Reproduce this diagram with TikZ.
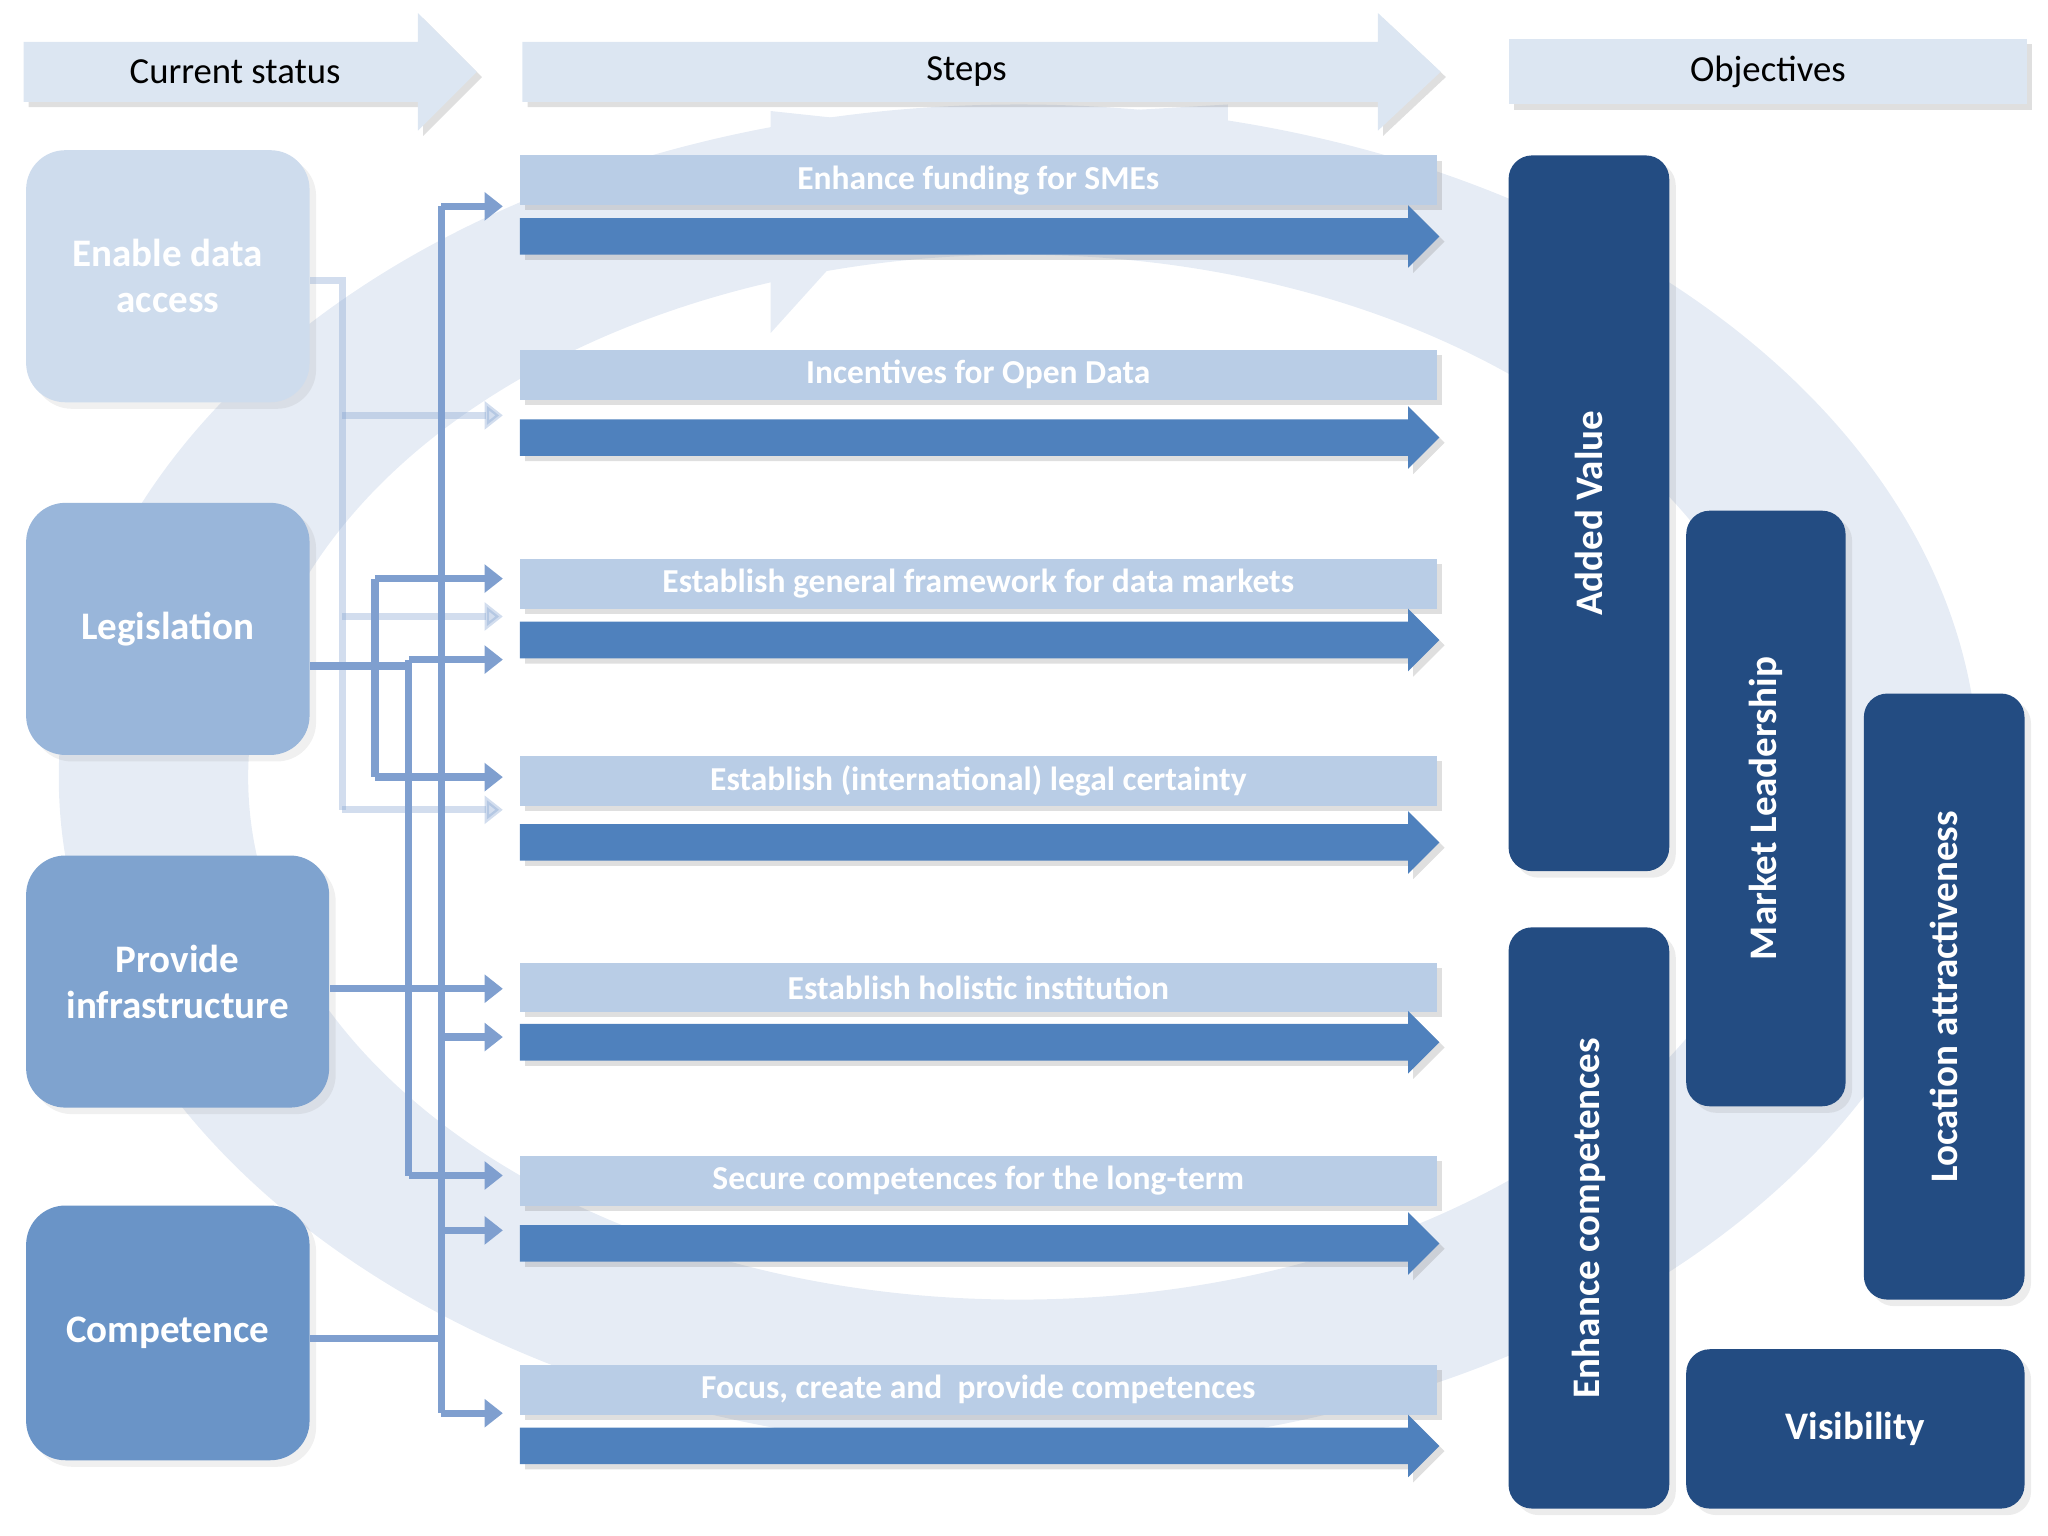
\documentclass[tikz,border=0pt]{standalone}
\usepackage{fontspec}
\setmainfont{Carlito}
\usetikzlibrary{arrows.meta,shadows}
\definecolor{hdr}{HTML}{DCE6F2}
\definecolor{ring}{HTML}{E6ECF5}
\definecolor{barc}{HTML}{B9CDE6}
\definecolor{arrc}{HTML}{4F81BD}
\definecolor{objc}{HTML}{234C82}
\definecolor{conc}{HTML}{7F9FCF}
\tikzset{
 hdr/.style={fill=hdr,drop shadow={opacity=0.25,shadow xshift=0.04,shadow yshift=-0.04}},
 lbox/.style={rounded corners=0.3cm,minimum width=2.17cm,minimum height=1.93cm,text=white,font=\bfseries\fontsize{8.5}{10}\selectfont,align=center,drop shadow={opacity=0.12,shadow xshift=0.05,shadow yshift=-0.05}},
 bar/.style={fill=barc,minimum width=7.02cm,minimum height=0.38cm,inner sep=0,text=white,font=\bfseries\fontsize{7.3}{8}\selectfont,drop shadow={opacity=0.25,shadow xshift=0.04,shadow yshift=-0.04}},
 sarr/.style={fill=arrc,drop shadow={opacity=0.25,shadow xshift=0.04,shadow yshift=-0.04}},
 obj/.style={fill=objc,rounded corners=0.18cm,text=white,font=\bfseries\fontsize{8.5}{10}\selectfont,drop shadow={opacity=0.15,shadow xshift=0.05,shadow yshift=-0.05}},
 con/.style={draw=conc,line width=1.6pt},
 cona/.style={con,-{Triangle[length=4pt,width=6pt]}},
}
\begin{document}
\begin{tikzpicture}
\useasboundingbox (0,0) rectangle (15.68,-11.76);
% background ring
\fill[ring,even odd rule] (7.8,-5.95) ellipse [x radius=7.35,y radius=5.15] (7.8,-5.95) ellipse [x radius=5.9,y radius=4.0];
\fill[ring] (5.9,-0.85) -- (7.3,-1.0) -- (5.9,-2.55) -- cycle;
\fill[ring] (8.55,-0.85) -- (9.4,-0.8) -- (9.4,-1.9) -- cycle;
% headers
\path[hdr] (0.18,-0.32) -- (3.2,-0.32) -- (3.2,-0.1) -- (3.65,-0.55) -- (3.2,-1.0) -- (3.2,-0.78) -- (0.18,-0.78) -- cycle;
\node (h1) at (1.8,-0.55) {\fontsize{8}{9}\selectfont Current status};
\path[hdr] (4.0,-0.32) -- (10.55,-0.32) -- (10.55,-0.1) -- (11.03,-0.55) -- (10.55,-1.0) -- (10.55,-0.78) -- (4.0,-0.78) -- cycle;
\node (h2) at (7.4,-0.55) {\fontsize{8}{9}\selectfont Steps};
\node[hdr,minimum width=3.97cm,minimum height=0.5cm] (h3) at (13.535,-0.55) {\fontsize{8}{9}\selectfont Objectives};
% left boxes
\node[lbox,fill=hdr!60!barc] (eda) at (1.285,-2.115) {Enable data\\access};
\node[lbox,fill=barc!70!arrc] (leg) at (1.285,-4.815) {Legislation};
\node[lbox,fill=barc!45!arrc,minimum width=2.32cm] (inf) at (1.36,-7.515) {Provide\\infrastructure};
\node[lbox,fill=barc!25!arrc,minimum height=1.95cm] (cmp) at (1.285,-10.205) {Competence};
% steps
\foreach \n/\yb/\ya/\t in {1/1.38/1.81/Enhance funding for SMEs,2/2.87/3.35/Incentives for Open Data,3/4.47/4.90/Establish general framework for data markets,4/5.98/6.45/Establish (international) legal certainty,5/7.56/7.98/Establish holistic institution,6/9.04/9.52/Secure competences for the long-term,7/10.64/11.07/{Focus, create and \ provide competences}}{
 \node[bar] (b\n) at (7.49,-\yb) {\t};
 \path[sarr] (3.98,-\ya+0.14) -- (10.78,-\ya+0.14) -- (10.78,-\ya+0.24) -- (11.02,-\ya) -- (10.78,-\ya-0.24) -- (10.78,-\ya-0.14) -- (3.98,-\ya-0.14) -- cycle;
 \coordinate (s\n) at (3.98,-\ya);
}
% connectors
\coordinate (e1) at (2.62,-2.15); \coordinate (e2) at (2.62,-6.2);
\draw[con,opacity=0.35] (eda.east|-e1) -- (e1) -- (e2);
\foreach \y in {3.18,4.72,6.2} \draw[cona,opacity=0.35] (2.62,-\y) -- (3.85,-\y);
\coordinate (l1) at (2.87,-5.1);
\draw[con] (leg.east|-l1) -- (3.13,-5.1);
\draw[con] (2.87,-4.43) -- (2.87,-5.95);
\foreach \y in {4.43,5.95} \draw[cona] (2.87,-\y) -- (3.85,-\y);
\draw[con] (3.13,-5.05) -- (3.13,-9.0);
\foreach \y in {5.05,9.0} \draw[cona] (3.13,-\y) -- (3.85,-\y);
\coordinate (i1) at (3.85,-7.57);
\draw[cona] (inf.east|-i1) -- (i1);
\coordinate (c1) at (3.38,-10.25);
\draw[con] (cmp.east|-c1) -- (c1);
\draw[con] (3.38,-1.58) -- (3.38,-10.82);
\foreach \y in {1.58,7.94,9.42,10.82} \draw[cona] (3.38,-\y) -- (3.85,-\y);
% objectives
\node[obj,minimum width=1.23cm,minimum height=5.48cm] (o1) at (12.165,-3.93) {};
\node[rotate=90,text=white,font=\bfseries\fontsize{8.5}{10}\selectfont] at (o1) {Added Value};
\node[obj,minimum width=1.23cm,minimum height=4.45cm] (o2) at (12.165,-9.325) {};
\node[rotate=90,text=white,font=\bfseries\fontsize{8.5}{10}\selectfont] at (o2) {Enhance competences};
\node[obj,minimum width=1.22cm,minimum height=4.56cm] (o3) at (13.52,-6.19) {};
\node[rotate=90,text=white,font=\bfseries\fontsize{8.5}{10}\selectfont] at (o3) {Market Leadership};
\node[obj,minimum width=1.23cm,minimum height=4.64cm] (o4) at (14.885,-7.63) {};
\node[rotate=90,text=white,font=\bfseries\fontsize{8.5}{10}\selectfont] at (o4) {Location attractiveness};
\node[obj,minimum width=2.59cm,minimum height=1.22cm] (o5) at (14.205,-10.94) {Visibility};
\end{tikzpicture}
\end{document}
